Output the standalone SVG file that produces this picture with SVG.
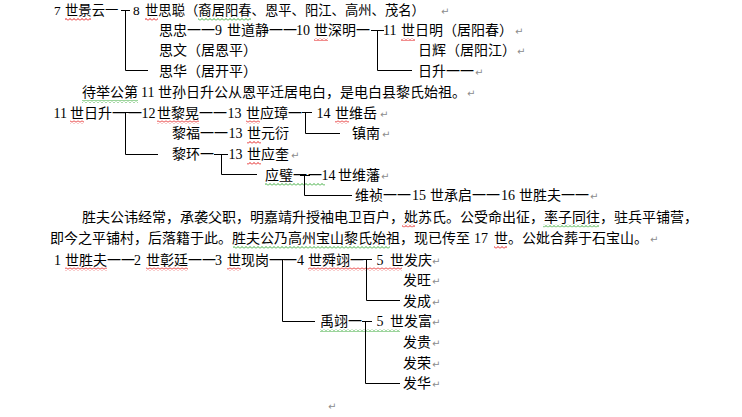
<svg xmlns="http://www.w3.org/2000/svg" width="742" height="417" viewBox="0 0 742 417">
<defs>
<style>
.t{font-family:"Liberation Serif","Noto Sans CJK SC",serif;font-size:14px;fill:#000}
.s{font-size:13.33px}
.p{font-family:"DejaVu Sans",sans-serif;font-size:10px;fill:#8c8c8c}
.c{fill:none;stroke:#000;stroke-width:1}
</style>
<pattern id="rw" width="4" height="3" patternUnits="userSpaceOnUse"><path d="M0,2.5 L2,0.5 L4,2.5" fill="none" stroke="#e00000" stroke-width="0.9"/></pattern>
<pattern id="gw" width="4" height="3" patternUnits="userSpaceOnUse"><path d="M0,2.5 L2,0.5 L4,2.5" fill="none" stroke="#22a022" stroke-width="0.9"/></pattern>
</defs>
<rect width="742" height="417" fill="#fff"/>

<g id="squiggles">
<rect x="65" y="18" width="26" height="3" fill="url(#rw)"/>
<rect x="145" y="18" width="13" height="3" fill="url(#rw)"/>
<rect x="198" y="18" width="53" height="3" fill="url(#gw)"/>
<rect x="314" y="38" width="14" height="3" fill="url(#rw)"/>
<rect x="401" y="38" width="14" height="3" fill="url(#rw)"/>
<rect x="82" y="100" width="56" height="3" fill="url(#gw)"/>
<rect x="70" y="120.5" width="14" height="3" fill="url(#rw)"/>
<rect x="157" y="120.5" width="42" height="3" fill="url(#rw)"/>
<rect x="246" y="120.5" width="14" height="3" fill="url(#rw)"/>
<rect x="335" y="120.5" width="14" height="3" fill="url(#rw)"/>
<rect x="247" y="141" width="14" height="3" fill="url(#rw)"/>
<rect x="247" y="162" width="14" height="3" fill="url(#rw)"/>
<rect x="265" y="183" width="60" height="3" fill="url(#gw)"/>
<rect x="402" y="224.5" width="13" height="3" fill="url(#rw)"/>
<rect x="543" y="224.5" width="56" height="3" fill="url(#gw)"/>
<rect x="233" y="246" width="157" height="3" fill="url(#gw)"/>
<rect x="494" y="246" width="13" height="3" fill="url(#rw)"/>
<rect x="65" y="267.5" width="42" height="3" fill="url(#rw)"/>
<rect x="146" y="267.5" width="42" height="3" fill="url(#rw)"/>
<rect x="227" y="267.5" width="14" height="3" fill="url(#rw)"/>
<rect x="308" y="267.5" width="94" height="3" fill="url(#rw)"/>
<rect x="320" y="329" width="80" height="3" fill="url(#gw)"/>
</g>

<g id="connectors">
<path class="c" d="M121,10.5 H130 M125.5,10.5 V70.5 H148"/>
<path class="c" d="M371,30.5 H384 M377.5,30.5 V70.5 H412"/>
<path class="c" d="M122,112.5 H130 M125.5,112.5 V154.5 H158"/>
<path class="c" d="M302,112.5 H312 M305.5,112.5 V133.5 H340"/>
<path class="c" d="M214,154.5 H228 M221.5,154.5 V174.5 H257"/>
<path class="c" d="M300,175.5 H310 M304.5,175.5 V195.5 H352"/>
<path class="c" d="M278,259.5 H288 M282.5,259.5 V321.5 H315"/>
<path class="c" d="M362,259.5 H372 M366.5,259.5 V300.5 H400"/>
<path class="c" d="M362,321.5 H372 M365.5,321.5 V383.5 H400"/>
</g>

<g id="n7">
<text class="t s" x="54" y="15">7</text>
<text class="t s" x="65" y="15">世景云一</text>
</g>
<g id="n8">
<text class="t s" x="133" y="15">8</text>
<text class="t s" x="145" y="15">世思聪（裔居阳春、恩平、阳江、高州、茂名）</text>
<text class="p" x="441" y="15">↵</text>
</g>
<g id="n9">
<text class="t" x="159" y="35">思忠一一</text>
<text class="t" x="215" y="35">9</text>
<text class="t" x="227" y="35">世道静一一</text>
<text class="t" x="296" y="35">10</text>
<text class="t" x="314" y="35">世深明一</text>
</g>
<g id="n11a">
<text class="t" x="383" y="35">11</text>
<text class="t" x="401" y="35">世日明（居阳春）</text>
<text class="p" x="515" y="35">↵</text>
</g>
<g id="n8b">
<text class="t" x="159" y="55">思文（居恩平）</text>
</g>
<g id="n11b">
<text class="t" x="418" y="55">日辉（居阳江）</text>
<text class="p" x="517" y="55">↵</text>
</g>
<g id="n8c">
<text class="t" x="159" y="75.5">思华（居开平）</text>
</g>
<g id="n11c">
<text class="t" x="418" y="75.5">日升一一</text>
<text class="p" x="475" y="75.5">↵</text>
</g>
<g id="note1">
<text class="t" x="82" y="97">待举公第</text>
<text class="t" x="141" y="97">11</text>
<text class="t" x="158" y="97">世孙日升公从恩平迁居电白，是电白县黎氏始祖。</text>
<text class="p" x="467" y="97">↵</text>
</g>
<g id="r11">
<text class="t" x="53.5" y="117.5">11</text>
<text class="t" x="70" y="117.5">世日升一</text>
<text class="t" x="128" y="117.5">一</text>
</g>
<g id="r12">
<text class="t" x="141.5" y="117.5">12</text>
<text class="t" x="157" y="117.5">世黎晃一一</text>
</g>
<g id="r13a">
<text class="t" x="227.5" y="117.5">13</text>
<text class="t" x="246" y="117.5">世应璋一</text>
</g>
<g id="r14a">
<text class="t" x="316.5" y="117.5">14</text>
<text class="t" x="335" y="117.5">世维岳</text>
<text class="p" x="380" y="117.5">↵</text>
</g>
<g id="r12b">
<text class="t" x="172" y="138">黎福一一</text>
<text class="t" x="228.5" y="138">13</text>
<text class="t" x="247" y="138">世元衍</text>
</g>
<g id="r14b">
<text class="t" x="352" y="138">镇南</text>
<text class="p" x="382" y="138">↵</text>
</g>
<g id="r12c">
<text class="t" x="172" y="159">黎环一</text>
</g>
<g id="r13c">
<text class="t" x="228.5" y="159">13</text>
<text class="t" x="247" y="159">世应奎</text>
<text class="p" x="291" y="159">↵</text>
</g>
<g id="r13d">
<text class="t" x="265" y="180">应璧一</text>
<text class="t" x="308" y="180">一</text>
</g>
<g id="r14d">
<text class="t" x="321.5" y="180">14</text>
<text class="t" x="338" y="180">世维藩</text>
<text class="p" x="381" y="180">↵</text>
</g>
<g id="r14e">
<text class="t" x="355" y="200">维祯一一</text>
<text class="t" x="412" y="200">15</text>
<text class="t" x="430" y="200">世承启一一</text>
<text class="t" x="501" y="200">16</text>
<text class="t" x="519" y="200">世胜夫一一</text>
<text class="p" x="590" y="200">↵</text>
</g>
<g id="note2">
<text class="t" x="82" y="221.5">胜夫公讳经常，承袭父职，明嘉靖升授袖电卫百户，妣苏氏。公受命出征，率子同往，驻兵平铺营，</text>
<text class="t" x="50" y="243">即今之平铺村，后落籍于此。胜夫公乃高州宝山黎氏始祖，现已传至</text>
<text class="t" x="474" y="243">17</text>
<text class="t" x="494" y="243">世。公妣合葬于石宝山。</text>
<text class="p" x="650" y="243">↵</text>
</g>
<g id="g1">
<text class="t" x="54" y="264.5">1</text>
<text class="t" x="65" y="264.5">世胜夫一一</text>
<text class="t" x="134" y="264.5">2</text>
<text class="t" x="146" y="264.5">世彰廷一一</text>
<text class="t" x="215" y="264.5">3</text>
<text class="t" x="227" y="264.5">世现岗一</text>
</g>
<g id="g4a">
<text class="t" x="283" y="264.5">一</text>
<text class="t" x="297" y="264.5">4</text>
<text class="t" x="308" y="264.5">世舜翊一</text>
</g>
<g id="g5a">
<text class="t" x="376.5" y="264.5">5</text>
<text class="t" x="390" y="264.5">世发庆</text>
<text class="p" x="432" y="264.5">↵</text>
</g>
<g id="g5b">
<text class="t" x="403" y="285">发旺</text>
<text class="p" x="432" y="285">↵</text>
</g>
<g id="g5c">
<text class="t" x="403" y="305.5">发成</text>
<text class="p" x="432" y="305.5">↵</text>
</g>
<g id="g4b">
<text class="t" x="320" y="326">禹翊一</text>
</g>
<g id="g5d">
<text class="t" x="376.5" y="326">5</text>
<text class="t" x="390" y="326">世发富</text>
<text class="p" x="432" y="326">↵</text>
</g>
<g id="g5e">
<text class="t" x="403" y="347">发贵</text>
<text class="p" x="432" y="347">↵</text>
</g>
<g id="g5f">
<text class="t" x="403" y="367.5">发荣</text>
<text class="p" x="432" y="367.5">↵</text>
</g>
<g id="g5g">
<text class="t" x="403" y="388">发华</text>
<text class="p" x="432" y="388">↵</text>
</g>
<text class="p" x="328" y="410">↵</text>
</svg>
